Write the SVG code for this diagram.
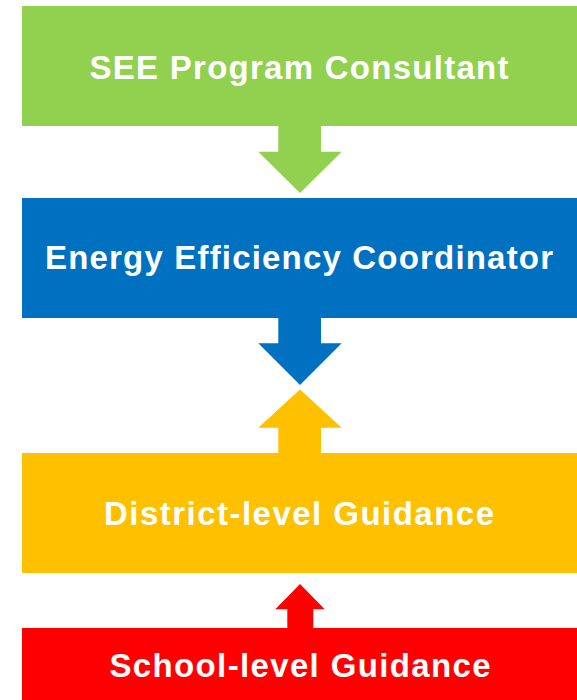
<svg xmlns="http://www.w3.org/2000/svg" width="577" height="700" viewBox="0 0 577 700">
<style>
.lbl{font-family:"Liberation Sans",Arial,sans-serif;font-weight:bold;font-size:33px;fill:#fff;text-anchor:middle;font-variant-ligatures:none}
.g{fill:#92D050}.b{fill:#0070C0}.y{fill:#FFC000}.r{fill:#FF0000}
</style>
<rect width="577" height="700" fill="#fff"/>
<g id="connectors">
<polygon class="g" points="278.3,126 321,126 321,151.7 341.7,151.7 300,193 258.3,151.7 278.3,151.7"/>
<polygon class="b" points="278.3,318 321,318 321,343.3 341.7,343.3 300,385 258.3,343.3 278.3,343.3"/>
<polygon class="y" points="278.3,453 321,453 321,427.7 341.7,427.7 300,389.5 258.3,427.7 278.3,427.7"/>
<polygon class="r" points="287.3,628 313.3,628 313.3,609.3 324.7,609.3 300,584 275.3,609.3 287.3,609.3"/>
</g>
<g id="see-consultant">
<rect class="g" x="22" y="6" width="555" height="120"/>
<text class="lbl" x="299" y="79" textLength="419" lengthAdjust="spacing">SEE Program Consultant</text>
</g>
<g id="energy-coordinator">
<rect class="b" x="22" y="198" width="555" height="120"/>
<text class="lbl" x="299" y="269.3" textLength="508" lengthAdjust="spacing">Energy Efficiency Coordinator</text>
</g>
<g id="district-guidance">
<rect class="y" x="22" y="453" width="555" height="120"/>
<text class="lbl" x="299" y="524.7" textLength="390" lengthAdjust="spacing">District-level Guidance</text>
</g>
<g id="school-guidance">
<rect class="r" x="22" y="628" width="555" height="72"/>
<text class="lbl" x="300" y="677.3" textLength="381" lengthAdjust="spacing">School-level Guidance</text>
</g>
</svg>
